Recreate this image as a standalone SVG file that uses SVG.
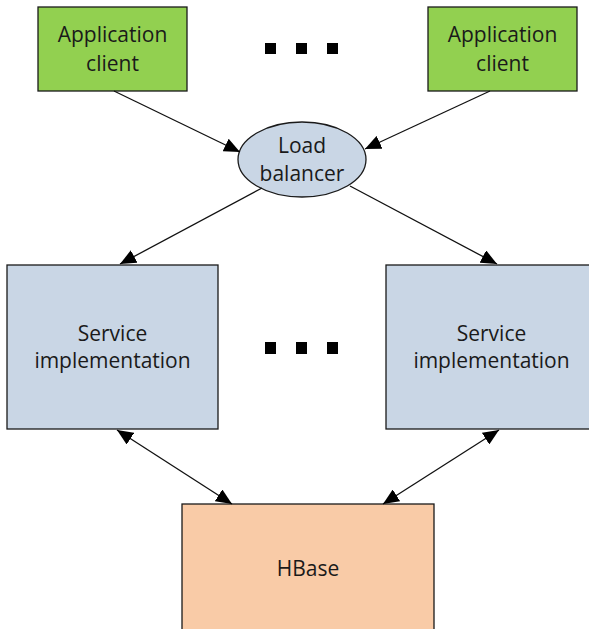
<svg xmlns="http://www.w3.org/2000/svg" width="589" height="629" viewBox="0 0 589 629">
<defs>
<style>
.box{stroke:#1a1a1a;stroke-width:1.3}
.green{fill:#92d050}
.blue{fill:#c9d6e5}
.peach{fill:#f9cba7}
.lbl{font-family:"Open Sans","Liberation Sans",sans-serif;font-size:21px;fill:#1a1a1a;text-anchor:middle}
.con{stroke:#111;stroke-width:1.3;fill:none}
.dot{fill:#000}
</style>
<marker id="ah" viewBox="0 0 16 14" refX="16" refY="7" markerWidth="16" markerHeight="14" markerUnits="userSpaceOnUse" orient="auto-start-reverse">
<path d="M0,0 L16,7 L0,14 Z" fill="#000"/>
</marker>
</defs>
<rect width="589" height="629" fill="#fff"/>
<g id="client1">
<rect class="box green" x="38" y="7" width="149" height="84"/>
<text class="lbl" x="112.5" y="42">Application</text>
<text class="lbl" x="112.5" y="71">client</text>
</g>
<g id="client2">
<rect class="box green" x="428" y="7" width="149" height="84"/>
<text class="lbl" x="502.5" y="42">Application</text>
<text class="lbl" x="502.5" y="71">client</text>
</g>
<g id="dots-top">
<rect class="dot" x="265" y="43" width="11" height="11"/>
<rect class="dot" x="296" y="43" width="11" height="11"/>
<rect class="dot" x="327" y="43" width="11" height="11"/>
</g>
<g id="loadbalancer">
<ellipse class="box blue" cx="302" cy="159.5" rx="64" ry="37.5"/>
<text class="lbl" x="302" y="153">Load</text>
<text class="lbl" x="302" y="181">balancer</text>
</g>
<g id="service1">
<rect class="box blue" x="7" y="265" width="211" height="164"/>
<text class="lbl" x="112.5" y="341">Service</text>
<text class="lbl" x="112.5" y="368">implementation</text>
</g>
<g id="service2">
<rect class="box blue" x="386" y="265" width="211" height="164"/>
<text class="lbl" x="491.5" y="341">Service</text>
<text class="lbl" x="491.5" y="368">implementation</text>
</g>
<g id="dots-mid">
<rect class="dot" x="265" y="342" width="11" height="12"/>
<rect class="dot" x="296" y="342" width="11" height="12"/>
<rect class="dot" x="327" y="342" width="11" height="12"/>
</g>
<g id="hbase">
<rect class="box peach" x="182" y="504" width="252" height="140"/>
<text class="lbl" x="308" y="576">HBase</text>
</g>
<g id="connectors">
<line class="con" x1="114" y1="91" x2="240" y2="152" marker-end="url(#ah)"/>
<line class="con" x1="490" y1="91" x2="365" y2="149" marker-end="url(#ah)"/>
<line class="con" x1="262" y1="188" x2="120" y2="264" marker-end="url(#ah)"/>
<line class="con" x1="350" y1="186" x2="497" y2="264" marker-end="url(#ah)"/>
<line class="con" x1="117" y1="430" x2="232" y2="504" marker-start="url(#ah)" marker-end="url(#ah)"/>
<line class="con" x1="499" y1="430" x2="383" y2="504" marker-start="url(#ah)" marker-end="url(#ah)"/>
</g>
</svg>
